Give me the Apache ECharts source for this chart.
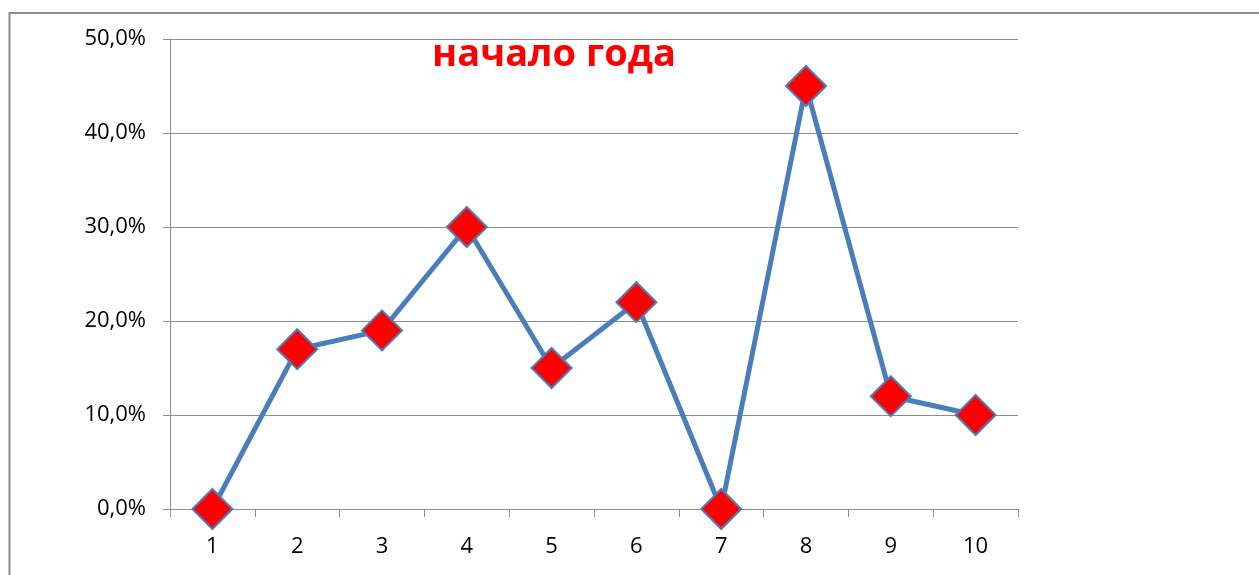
<!DOCTYPE html>
<html>
<head>
<meta charset="utf-8">
<script src="https://cdn.jsdelivr.net/npm/echarts@6/dist/echarts.min.js"></script>
<style>
  html, body { margin: 0; padding: 0; background: #fff; }
  #chart { width: 1259px; height: 575px; }
</style>
</head>
<body>
<div id="chart"></div>
<script>
const categories = ['1', '2', '3', '4', '5', '6', '7', '8', '9', '10'];
const values = [0, 17, 19, 30, 15, 22, 0, 45, 12, 10];
const titleText = 'начало года';

const chart = echarts.init(document.getElementById('chart'));
const axisGray = '#8c8c8c';

chart.setOption({
  animation: false,
  backgroundColor: '#fff',
  graphic: [{
    type: 'rect',
    shape: { x: 9.5, y: 13, width: 1400, height: 700 },
    style: { fill: 'none', stroke: '#8c8c8c', lineWidth: 2 },
    silent: true
  }],
  title: {
    text: titleText,
    left: 554,
    top: 33,
    padding: 0,
    textAlign: 'center',
    textStyle: {
      color: '#ff0000',
      fontSize: 38,
      lineHeight: 44,
      fontWeight: 'bold',
      fontFamily: 'Open Sans'
    }
  },
  grid: { left: 170, right: 241, top: 39, bottom: 66 },
  xAxis: {
    type: 'category',
    data: categories,
    boundaryGap: true,
    axisLine: { lineStyle: { color: axisGray, width: 1 } },
    axisTick: { show: true, length: 8, lineStyle: { color: axisGray } },
    axisLabel: { color: '#000', fontSize: 22, fontFamily: 'Open Sans', margin: 27 },
    splitLine: { show: false }
  },
  yAxis: {
    type: 'value',
    min: 0,
    max: 50,
    interval: 10,
    axisLine: { show: true, lineStyle: { color: axisGray, width: 1 } },
    axisTick: { show: true, length: 7, lineStyle: { color: axisGray } },
    axisLabel: {
      color: '#000',
      fontSize: 22,
      fontFamily: 'Open Sans',
      margin: 24,
      formatter: v => v.toFixed(1).replace('.', ',') + '%'
    },
    splitLine: { lineStyle: { color: axisGray, width: 1 } }
  },
  series: [{
    type: 'line',
    data: values,
    symbol: 'diamond',
    symbolSize: 40,
    lineStyle: { color: '#4a7ebb', width: 5 },
    itemStyle: { color: '#ff0000', borderColor: '#4a7ebb', borderWidth: 2 },
    z: 3
  }]
});
</script>
</body>
</html>
